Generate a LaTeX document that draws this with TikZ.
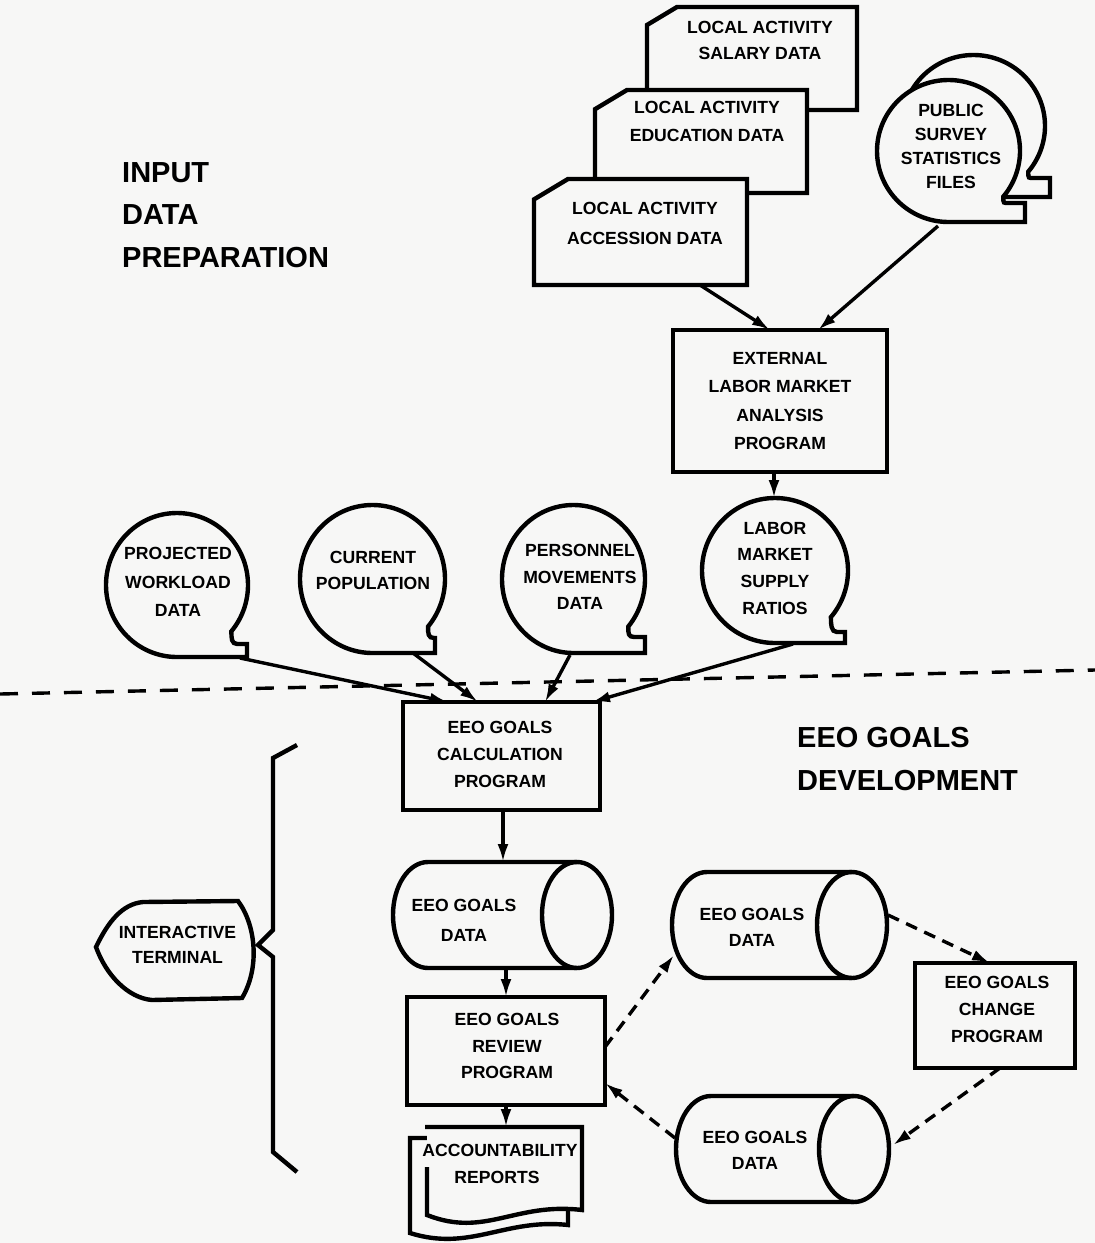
\documentclass[tikz,border=0pt]{standalone}
\usepackage{fontspec}
\setmainfont{Liberation Sans}
\usetikzlibrary{arrows.meta,calc}
\definecolor{bgc}{RGB}{247,247,246}
\newcommand\lblf[1]{\fontsize{17.6}{#1}\selectfont\bfseries}
\newcommand\mytape[6]{% cx cy rx ry tabx taby
  \path[shp,fill=bgc] (#5,{#2+#4}) -- (#1,{#2+#4})
    arc[start angle=90,end angle=400,x radius=#3,y radius=#4]
    .. controls +(0,7) and +(-6,0) .. ({#1+0.766*#3+6},#6) -- (#5,#6) -- cycle;}
\newcommand\mydrum[4]{% L R T B
  \path[shp,fill=bgc] ({#2-35},#3) -- ({#1+35},#3)
    arc[start angle=270,end angle=90,x radius=35,y radius={(#4-#3)/2}]
    -- ({#2-35},#4)
    arc[start angle=90,end angle=-90,x radius=35,y radius={(#4-#3)/2}] -- cycle;
  \path[shp] ({#2-35},#3) arc[start angle=270,end angle=90,x radius=35,y radius={(#4-#3)/2}];}
\newcommand\mycard[5]{% L R T B cut
  \path[shp,fill=bgc] (#1,{#3+#5*0.6}) -- ({#1+#5},#3) -- (#2,#3) -- (#2,#4) -- (#1,#4) -- cycle;}
\begin{document}
\begin{tikzpicture}[x=1pt,y=-1pt,
  shp/.style={draw=black,line width=4.4pt,line join=miter},
  box/.style={draw,line width=3.4pt,fill=bgc,inner sep=0pt},
  lbl/.style={align=center,inner sep=0pt,font=\lblf{27}},
  ttl/.style={align=left,inner sep=0pt,anchor=west,font=\fontsize{29}{42.5}\selectfont\bfseries},
  arr/.style={line width=3.4pt,-{Latex[length=18pt,width=11pt]}},
  darr/.style={arr,dash pattern=on 12pt off 8pt}]
\fill[bgc] (0,0) rectangle (1095,1243);
\useasboundingbox (0,0) rectangle (1095,1243);

% section divider
\coordinate (dl1) at (0,694);
\coordinate (dl2) at (1095,670);
\draw[line width=3.4pt,dash pattern=on 18pt off 14pt] (dl1) -- (dl2);

% titles
\node[ttl] (t1) at (122,215) {INPUT\\DATA\\PREPARATION};
\node[ttl] (t2) at (797,759) {EEO GOALS\\DEVELOPMENT};

% punched cards
\mycard{647}{857}{7}{110}{30}
\node[lbl,font=\lblf{26}] (salary) at (760,40) {LOCAL ACTIVITY\\SALARY DATA};
\mycard{595}{807}{90}{193}{32}
\node[lbl,font=\lblf{28}] (educ) at (707,121) {LOCAL ACTIVITY\\EDUCATION DATA};
\mycard{534}{747}{179}{285}{34}
\node[lbl,font=\lblf{30}] (accs) at (645,223) {LOCAL ACTIVITY\\ACCESSION DATA};

% public survey files (stacked tapes)
\mytape{973.5}{126}{71.5}{71}{1050}{178}
\mytape{948.5}{151}{71.5}{71}{1025}{203}
\node[lbl,font=\lblf{24}] (pub) at (951,146) {PUBLIC\\SURVEY\\STATISTICS\\FILES};

% external labor market program
\node[box,minimum width=214pt,minimum height=142pt] (ext) at (780,401) {};
\node[lbl,font=\lblf{28.3}] (extl) at (780,401) {EXTERNAL\\LABOR MARKET\\ANALYSIS\\PROGRAM};

% tape circles
\mytape{177}{585}{71}{72}{247}{644}
\node[lbl,font=\lblf{28.5}] (proj) at (178,582) {PROJECTED\\WORKLOAD\\DATA};
\mytape{372.5}{579}{72.5}{74}{435}{638}
\node[lbl,font=\lblf{26}] (curr) at (373,570) {CURRENT\\POPULATION};
\mytape{573.5}{579}{71.5}{74}{645}{637}
\node[lbl,font=\lblf{26.5}] (pers) at (580,577) {PERSONNEL\\MOVEMENTS\\DATA};
\mytape{775}{570.5}{73}{72.5}{845}{632}
\node[lbl,font=\lblf{26.7}] (labr) at (775,568) {LABOR\\MARKET\\SUPPLY\\RATIOS};

% calculation program
\node[box,minimum width=197pt,minimum height=108pt] (calc) at (501.5,756) {};
\node[lbl,font=\lblf{27}] (calcl) at (500,754) {EEO GOALS\\CALCULATION\\PROGRAM};

% drums
\mydrum{393}{612}{862}{968}
\node[lbl,font=\lblf{30}] (d1) at (464,920) {EEO GOALS\\DATA};
\mydrum{672}{887}{872}{978}
\node[lbl,font=\lblf{26}] (d2) at (752,927) {EEO GOALS\\DATA};
\mydrum{676}{889}{1096}{1202}
\node[lbl,font=\lblf{26}] (d3) at (755,1150) {EEO GOALS\\DATA};

% review and change programs
\node[box,minimum width=198pt,minimum height=108pt] (rev) at (506,1051) {};
\node[lbl,font=\lblf{26.5}] (revl) at (507,1046) {EEO GOALS\\REVIEW\\PROGRAM};
\node[box,minimum width=160pt,minimum height=105pt] (chg) at (995,1015.5) {};
\node[lbl,font=\lblf{27}] (chgl) at (997,1009) {EEO GOALS\\CHANGE\\PROGRAM};

% accountability reports (multiple documents)
\path[shp,fill=bgc] (410,1138) -- (568,1138) -- (568,1225)
  .. controls (505,1218) and (470,1252) .. (410,1233) -- cycle;
\fill[bgc] (427,1127) -- (582,1127) -- (582,1210)
  .. controls (515,1202) and (485,1238) .. (427,1215) -- cycle;
\path[shp] (427,1167) -- (427,1215) .. controls (485,1238) and (515,1202) .. (582,1210)
  -- (582,1127) -- (425,1127);
\node[lbl] (accl) at (500,1150) {ACCOUNTABILITY};
\node[lbl] (accl2) at (497,1177) {REPORTS};

% interactive terminal and bracket
\path[shp,fill=bgc] (96,947) .. controls (108,922) and (122,904) .. (143,902)
  -- (238,901) .. controls (256,925) and (260,968) .. (242,998)
  -- (152,1000) .. controls (128,998) and (106,975) .. (96,947) -- cycle;
\node[lbl,font=\lblf{25}] (term) at (177.5,944.5) {INTERACTIVE\\TERMINAL};
\coordinate (br1) at (297,745);
\coordinate (br2) at (297,1172);
\path[shp] (br1) -- (273,758) -- (273,930) -- (258,945) -- (273,957) -- (273,1152) -- (br2);

% connector end points
\coordinate (accB) at (700,285);
\coordinate (pubB) at (938,226);
\coordinate (e1) at (770,330);
\coordinate (e2) at (818,330);
\coordinate (e3) at (774,472);
\coordinate (labT) at (774,498);
\coordinate (projB) at (240,658);
\coordinate (currB) at (413,653);
\coordinate (persB) at (570,655);
\coordinate (labB) at (793,644);
\coordinate (c1) at (448,702);
\coordinate (c2) at (478,702);
\coordinate (c3) at (545,702);
\coordinate (c4) at (592,702);
\coordinate (c5) at (503,810);
\coordinate (d1T) at (503,862);
\coordinate (d1B) at (506,968);
\coordinate (r1) at (506,997);
\coordinate (r2) at (506,1105);
\coordinate (aT) at (506,1127);
\coordinate (r3) at (605,1047);
\coordinate (d2L) at (674,955);
\coordinate (d2R) at (888,915);
\coordinate (g1) at (990,963);
\coordinate (g2) at (1000,1068);
\coordinate (d3R) at (893,1145);
\coordinate (d3L) at (675,1138);
\coordinate (r4) at (605,1083);

\draw[arr] (accB) -- (e1);
\draw[arr] (pubB) -- (e2);
\draw[arr] (e3) -- (labT);
\draw[arr] (projB) -- (c1);
\draw[arr] (currB) -- (c2);
\draw[arr] (persB) -- (c3);
\draw[arr] (labB) -- (c4);
\draw[arr] (c5) -- (d1T);
\draw[arr] (d1B) -- (r1);
\draw[arr] (r2) -- (aT);
\draw[darr] (r3) -- (d2L);
\draw[darr] (d2R) -- (g1);
\draw[darr] (g2) -- (d3R);
\draw[darr] (d3L) -- (r4);
\end{tikzpicture}
\end{document}
